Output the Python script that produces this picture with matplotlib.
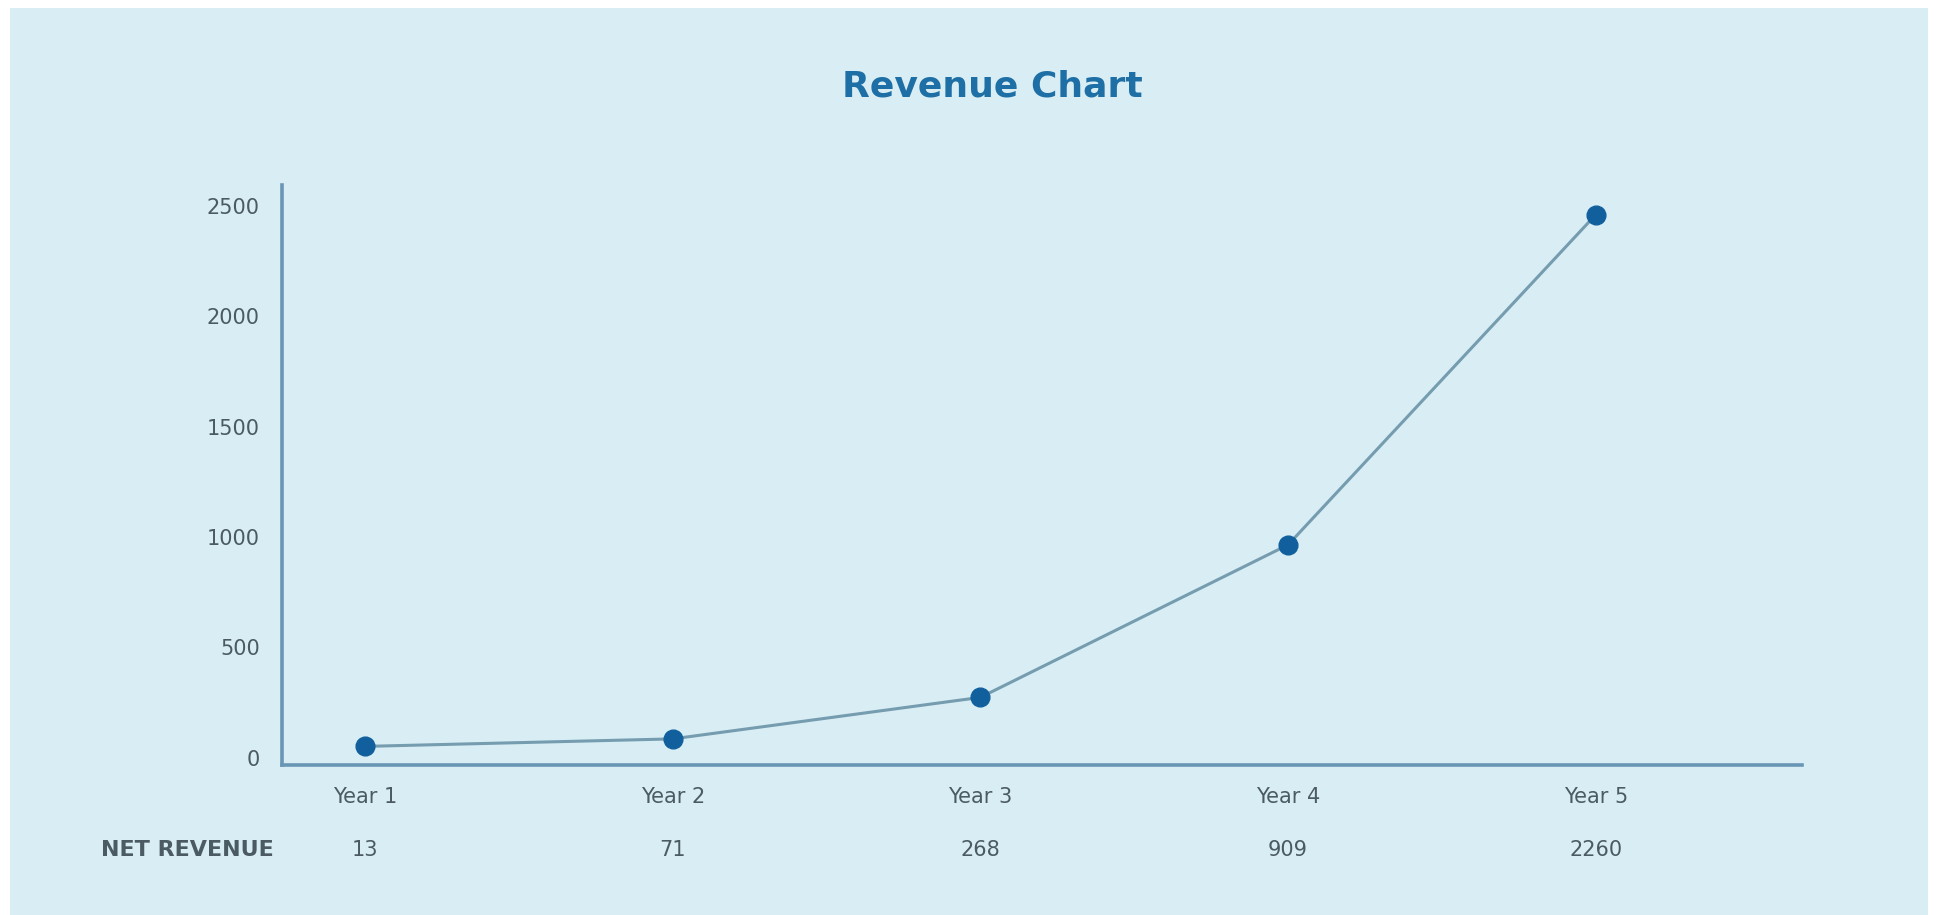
import matplotlib
matplotlib.use('Agg')
import matplotlib.pyplot as plt
import matplotlib.patches as patches
import matplotlib.transforms as mtransforms

# Data
years = ['Year 1', 'Year 2', 'Year 3', 'Year 4', 'Year 5']
plotted_values = [52, 86, 274, 965, 2460]
net_revenue = ['13', '71', '268', '909', '2260']
y_ticks = [0, 500, 1000, 1500, 2000, 2500]

# Colours
panel_color = '#d8eef4'
title_color = '#1e6fa6'
text_color = '#4b5a63'
spine_color = '#6a96b6'
line_color = '#769cb0'
marker_color = '#11609d'

plt.rcParams['font.family'] = ['DejaVu Sans']

fig = plt.figure(figsize=(19.38, 9.15), dpi=100)
fig.patch.set_facecolor('white')

# light blue panel behind everything
panel = patches.Rectangle((0.005, 0.0), 0.99, 0.991, transform=fig.transFigure,
                          facecolor=panel_color, edgecolor='none', zorder=-10)
fig.patches.append(panel)

ax = fig.add_axes([0.1455, 0.164, 0.7843, 0.634])
ax.set_facecolor('none')

x = list(range(len(years)))
ax.plot(x, plotted_values, color=line_color, linewidth=2.2, zorder=2)
ax.plot(x, plotted_values, linestyle='none', marker='o', markersize=13.5,
        color=marker_color, zorder=3)

ax.set_xlim(-0.27, 4.67)
ax.set_ylim(-32, 2595)

# spines
for side in ['top', 'right']:
    ax.spines[side].set_visible(False)
for side in ['left', 'bottom']:
    ax.spines[side].set_color(spine_color)
    ax.spines[side].set_linewidth(2.6)

ax.set_yticks(y_ticks)
ax.set_yticklabels([str(v) for v in y_ticks])
ax.set_xticks(x)
ax.set_xticklabels(years)
ax.tick_params(axis='y', length=0, pad=16, labelsize=15, labelcolor=text_color)
ax.tick_params(axis='x', length=0, pad=16, labelsize=15, labelcolor=text_color)

# net revenue row under the x labels
trans = mtransforms.blended_transform_factory(ax.transData, ax.transAxes)
for xi, val in zip(x, net_revenue):
    ax.text(xi, -0.147, val, transform=trans, ha='center', va='center',
            fontsize=15, color=text_color)
ax.text(-0.062, -0.147, 'NET REVENUE', transform=ax.transAxes, ha='center',
        va='center', fontsize=16, color=text_color, fontweight='semibold')

fig.text(0.512, 0.905, 'Revenue Chart', ha='center', va='center',
         fontsize=26, fontweight='bold', color=title_color)

fig.savefig('out.png', dpi=100, facecolor=fig.get_facecolor())
